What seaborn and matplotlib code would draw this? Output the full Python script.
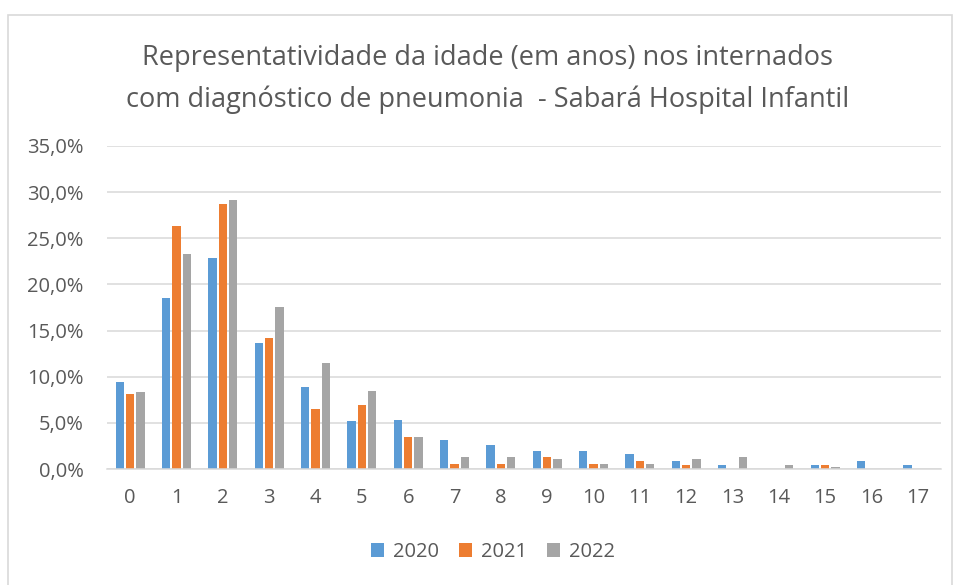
import matplotlib
matplotlib.use("Agg")
import matplotlib.pyplot as plt
from matplotlib.patches import Rectangle
from matplotlib.ticker import FuncFormatter
import seaborn as sns
import pandas as pd

ages = [str(i) for i in range(18)]
years = ["2020", "2021", "2022"]
v2020 = [9.4, 18.5, 22.9, 13.7, 8.9, 5.2, 5.3, 3.1, 2.6, 2.0, 2.0, 1.6, 0.9, 0.4, 0.0, 0.4, 0.9, 0.4]
v2021 = [8.1, 26.3, 28.7, 14.2, 6.5, 6.9, 3.5, 0.5, 0.5, 1.3, 0.5, 0.9, 0.4, 0.0, 0.0, 0.4, 0.0, 0.0]
v2022 = [8.3, 23.3, 29.1, 17.6, 11.5, 8.5, 3.5, 1.3, 1.3, 1.1, 0.5, 0.5, 1.1, 1.3, 0.4, 0.2, 0.0, 0.0]
colors = ["#5B9BD5", "#ED7D31", "#A5A5A5"]
title1 = "Representatividade da idade (em anos) nos internados"
title2 = "com diagnóstico de pneumonia  - Sabará Hospital Infantil"
yticks = [0, 5, 10, 15, 20, 25, 30, 35]

rows = []
for yr, vals in zip(years, [v2020, v2021, v2022]):
    for a, v in zip(ages, vals):
        rows.append({"idade": a, "ano": yr, "pct": v})
df = pd.DataFrame(rows)

sns.set_theme(style="white")
plt.rcParams["font.family"] = ["Open Sans", "DejaVu Sans"]
text_col = "#595959"
grid_col = "#D9D9D9"

fig = plt.figure(figsize=(9.54, 5.85), dpi=100)
fig.patch.set_facecolor("white")
fig.patches.append(Rectangle((8/954, -0.05), (952-8)/954, 1.05 - 15/585,
                             transform=fig.transFigure, fill=False,
                             edgecolor=grid_col, linewidth=1.2))

ax = fig.add_axes([107/954, 1-469/585, (941-107)/954, (469-146)/585])
sns.barplot(data=df, x="idade", y="pct", hue="ano", order=ages, hue_order=years,
            palette=colors, width=0.66, gap=0.18, ax=ax, saturation=1,
            legend=True, linewidth=0)

ax.set_ylim(0, 35)
ax.set_xlim(-0.5, 17.5)
ax.set_yticks(yticks)
ax.yaxis.set_major_formatter(FuncFormatter(lambda v, p: f"{v:.1f}%".replace(".", ",")))
ax.grid(axis="y", color=grid_col, linewidth=1.1)
ax.set_axisbelow(True)
for s in ["top", "right", "left"]:
    ax.spines[s].set_visible(False)
ax.spines["bottom"].set_color(grid_col)
ax.spines["bottom"].set_linewidth(1.1)
ax.tick_params(axis="both", length=0, colors=text_col, labelsize=14.5)
ax.tick_params(axis="x", pad=14)
ax.tick_params(axis="y", pad=17)
ax.set_xlabel("")
ax.set_ylabel("")

handles, labels = ax.get_legend_handles_labels()
ax.get_legend().remove()
fig.legend(handles, labels, loc="center", bbox_to_anchor=(493/954, 1-552/585),
           ncol=3, frameon=False, fontsize=14.5, handlelength=0.65, handleheight=0.65,
           handletextpad=0.45, columnspacing=1.0, labelcolor=text_col)

fig.text(488/954, 1-58/585, title1, ha="center", va="center", fontsize=19.5, color=text_col)
fig.text(488/954, 1-100/585, title2, ha="center", va="center", fontsize=19.5, color=text_col)

fig.savefig("out.png", dpi=100)
